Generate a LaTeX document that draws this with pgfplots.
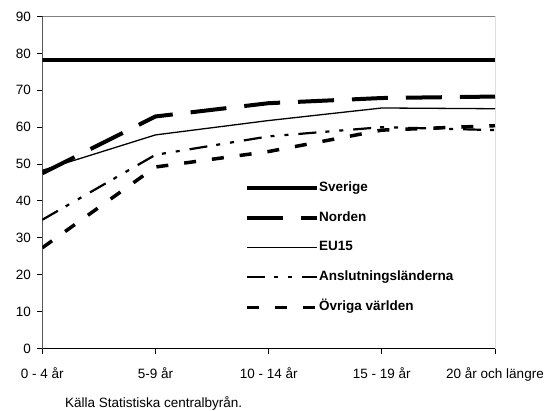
\documentclass[border=0pt]{standalone}
\usepackage{fontspec}
\setmainfont{Liberation Sans}
\usepackage{pgfplots}
\pgfplotsset{compat=1.18}
\newcommand{\fs}{\fontsize{13.5bp}{16bp}\selectfont}
\begin{document}
\begin{tikzpicture}
\path[use as bounding box] (-42.3bp,-62.5bp) rectangle (505.7bp,348.5bp);
\begin{axis}[
  at={(0,0)}, anchor=south west, scale only axis,
  width=452.7bp, height=332bp,
  xmin=0, xmax=4, ymin=0, ymax=90,
  xtick={0,1,2,3,4},
  xticklabels={0 - 4 år, 5-9 år, 10 - 14 år, 15 - 19 år, 20 år och längre},
  ytick={0,10,...,90},
  tick align=outside, xtick pos=left, ytick pos=left,
  major tick length=5bp,
  tick style={black, line width=1bp},
  axis line style={draw=none},
  ticklabel style={font=\fs},
  /pgf/number format/assume math mode=true,
  xticklabel style={yshift=-11bp},
  yticklabel style={xshift=-3bp},
  legend style={draw=none, fill=none, inner sep=0pt, outer sep=0pt,
    at={(0.4478,0.504)}, anchor=north west,
    font=\fs\bfseries, row sep=16.9bp,
    nodes={inner sep=0pt, text height=10bp, text depth=3bp}},
  legend cell align=left,
  legend image code/.code={\draw[#1] (-2bp,0bp) -- (68bp,0bp);},
]
\addplot[black, line width=4bp] coordinates {(0,78.3) (1,78.3) (2,78.3) (3,78.3) (4,78.3)};
\addlegendentry{Sverige}
\addplot[black, line width=4bp, dash pattern=on 36bp off 18bp] coordinates {(0,47.5) (1,62.9) (2,66.5) (3,67.9) (4,68.3)};
\addlegendentry{Norden}
\addplot[black, line width=1.3bp] coordinates {(0,48.3) (1,57.9) (2,61.8) (3,65.2) (4,65.0)};
\addlegendentry{EU15}
\addplot[black, line width=2.2bp, dash pattern=on 18bp off 9bp on 4bp off 10bp on 4bp off 10bp] coordinates {(0,34.9) (1,52.5) (2,57.5) (3,60.0) (4,59.2)};
\addlegendentry{Anslutningsländerna}
\addplot[black, line width=3.5bp, dash pattern=on 12bp off 16bp] coordinates {(0,27.3) (1,49.2) (2,53.4) (3,59.2) (4,60.4)};
\addlegendentry{Övriga världen}
\draw[gray, line width=0.8bp] (rel axis cs:0,1) -- (rel axis cs:1,1);
\draw[black, line width=1bp] (rel axis cs:1,1) -- (rel axis cs:1,0);
\draw[black, line width=2bp] (rel axis cs:0,1) -- (rel axis cs:0,0) -- (rel axis cs:1,0);
\end{axis}
\node[anchor=base west, font=\fs, inner sep=0pt] at (22.7bp,-58.5bp) {Källa Statistiska centralbyrån.};
\end{tikzpicture}
\end{document}
